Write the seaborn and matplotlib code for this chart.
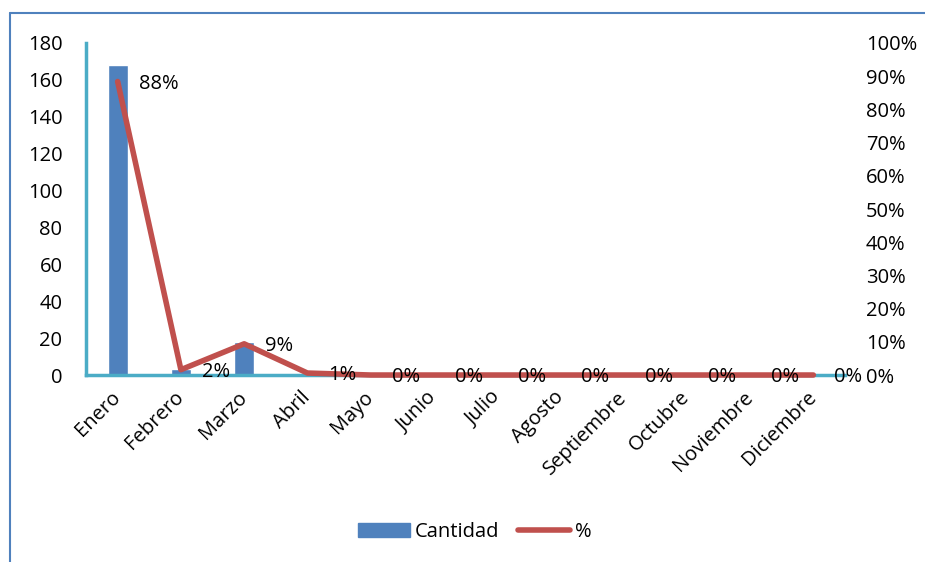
import numpy as np
import pandas as pd
import matplotlib
matplotlib.use("Agg")
import matplotlib.pyplot as plt
import seaborn as sns
from matplotlib.lines import Line2D
from matplotlib.patches import Patch
from matplotlib.ticker import PercentFormatter

# datos por mes
meses = ["Enero", "Febrero", "Marzo", "Abril", "Mayo", "Junio", "Julio",
         "Agosto", "Septiembre", "Octubre", "Noviembre", "Diciembre"]
cantidad = [168, 3, 18, 1, 0, 0, 0, 0, 0, 0, 0, 0]
porcentaje = [0.884, 0.016, 0.094, 0.006, 0, 0, 0, 0, 0, 0, 0, 0]

df = pd.DataFrame({"mes": meses, "cantidad": cantidad, "pct": porcentaje})

sns.set_style("white")
plt.rcParams["font.family"] = ["Open Sans", "DejaVu Sans"]
plt.rcParams["font.size"] = 14.5
plt.rcParams["text.color"] = "black"
plt.rcParams["xtick.color"] = "black"
plt.rcParams["ytick.color"] = "black"

azul = "#4F81BD"
rojo = "#C0504D"
cian = "#4BACC6"

fig = plt.figure(figsize=(9.25, 5.62), dpi=100)
ax = fig.add_axes([0.093, 0.3327, 0.8205, 0.5908])

sns.barplot(data=df, x="mes", y="cantidad", color=azul, width=0.32,
            saturation=1, ax=ax)
ax.set_ylim(0, 180)
ax.set_yticks(range(0, 181, 20))
ax.set_xlim(-0.5, 11.5)
ax.set_xlabel("")
ax.set_ylabel("")

ax2 = ax.twinx()
sns.lineplot(data=df, x="mes", y="pct", color=rojo, linewidth=4,
             sort=False, ax=ax2)
for ln in ax2.get_lines():
    ln.set_clip_on(False)
ax2.set_ylim(0, 1)
ax2.set_yticks(np.arange(0, 1.01, 0.1))
ax2.yaxis.set_major_formatter(PercentFormatter(1.0, decimals=0))
ax2.set_ylabel("")
ax2.set_xlim(-0.5, 11.5)

# etiquetas de porcentaje junto a cada punto
for i, p in enumerate(porcentaje):
    ax2.annotate(f"{p:.0%}", (i, p), xytext=(21, -2), textcoords="offset pixels",
                 ha="left", va="center", fontsize=14.5, color="black")

for s in ax.spines.values():
    s.set_visible(False)
for s in ax2.spines.values():
    s.set_visible(False)
ax.spines["left"].set_visible(True)
ax.spines["bottom"].set_visible(True)
ax.spines["left"].set_color(cian)
ax.spines["bottom"].set_color(cian)
ax.spines["left"].set_linewidth(2.5)
ax.spines["bottom"].set_linewidth(2.5)

ax.tick_params(axis="y", length=0, pad=17, labelcolor="black")
ax2.tick_params(axis="y", length=0, pad=15, labelcolor="black")
ax.tick_params(axis="x", length=0, pad=14, labelcolor="black")
plt.setp(ax.get_xticklabels(), rotation=45, ha="right", va="center",
         rotation_mode="anchor")

# borde del area del grafico
fig.add_artist(Line2D([0.0105, 0.0105], [0, 0.977], color=azul, lw=1.5,
                      transform=fig.transFigure))
fig.add_artist(Line2D([0.0105, 1], [0.977, 0.977], color=azul, lw=1.5,
                      transform=fig.transFigure))

handles = [Patch(color=azul), Line2D([0], [0], color=rojo, lw=4,
                                     solid_capstyle="round")]
fig.legend(handles, ["Cantidad", "%"], loc="center", ncol=2,
           bbox_to_anchor=(0.513, 0.054), frameon=False, handlelength=2.6,
           handletextpad=0.25, columnspacing=0.9, fontsize=14.5,
           labelcolor="black")

fig.savefig("out.png", dpi=100)
